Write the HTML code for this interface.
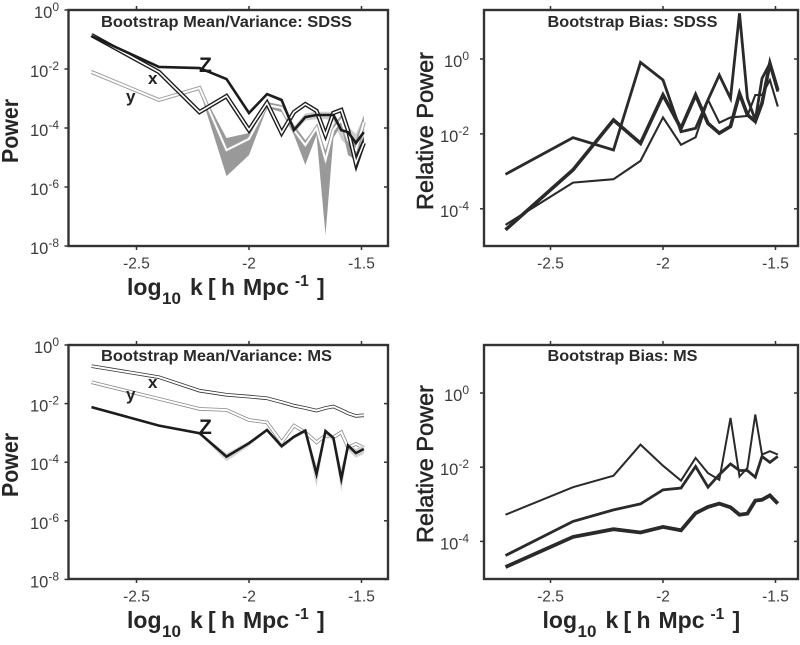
<!DOCTYPE html>
<html>
<head>
<meta charset="utf-8">
<title>Bootstrap Mean/Variance and Bias</title>
<style>
html,body{margin:0;padding:0;background:#fff;}
svg{display:block;font-family:"Liberation Sans",sans-serif;filter:blur(0.35px);}
</style>
</head>
<body>
<svg id="chart" xmlns="http://www.w3.org/2000/svg" width="800" height="645" viewBox="0 0 800 645"></svg>
<script>
// All y values are log10 of the plotted quantity; x values are log10 k.
const kValues = [-2.7,-2.4,-2.22,-2.1,-2,-1.92,-1.855,-1.8,-1.75,-1.7,-1.66,-1.625,-1.59,-1.56,-1.525,-1.49];
const xTickValues = [-2.5,-2,-1.5];
const xTickLabels = ['-2.5','-2','-1.5'];
const powerTickExponents = [0,-2,-4,-6,-8];
const biasTickExponents = [0,-2,-4];

// Panel 1: SDSS mean/variance
const sdssX = [-0.85,-2.10,-3.46,-2.92,-4.07,-3.15,-4.17,-3.46,-3.19,-3.42,-4.24,-3.49,-3.39,-4.07,-5.19,-4.51];
const sdssXLow = [-0.9,-2.14,-3.5,-2.96,-4.1,-3.2,-4.3,-3.5,-3.25,-3.5,-4.4,-3.55,-3.45,-4.2,-5.5,-4.7];
const sdssXHigh = [-0.8,-2.06,-3.42,-2.88,-4.03,-3.1,-4.1,-3.42,-3.13,-3.36,-4.1,-3.43,-3.33,-3.95,-4.9,-4.3];
const sdssY = [-2.10,-3.05,-2.64,-4.75,-4.37,-3.22,-3.32,-4.07,-4.58,-4.0,-5.08,-4.07,-3.73,-4.41,-4.75,-3.80];
const sdssYLow = [-2.14,-3.08,-2.71,-5.63,-4.92,-3.32,-3.46,-4.24,-5.25,-4.24,-7.63,-4.34,-3.9,-4.92,-5.08,-4.07];
const sdssYHigh = [-2.03,-3.02,-2.61,-4.34,-4.17,-3.12,-3.22,-3.90,-4.41,-3.93,-4.75,-3.9,-3.56,-4.07,-4.41,-3.56];
const sdssZ = [-0.88,-1.93,-1.97,-2.34,-3.49,-2.85,-3.05,-4.07,-3.63,-3.56,-3.56,-3.56,-4.07,-4.14,-4.51,-4.14];
const sdssZLow = [-0.92,-1.96,-2.0,-2.38,-3.55,-2.9,-3.12,-4.2,-3.75,-3.7,-3.7,-3.75,-4.4,-4.6,-4.8,-4.55];
const sdssZHigh = [-0.84,-1.9,-1.94,-2.3,-3.43,-2.8,-2.98,-3.95,-3.5,-3.45,-3.45,-3.45,-3.9,-3.95,-4.2,-3.6];

// Panel 2: SDSS bias
const sdssBiasA = [-3.08,-2.10,-2.43,-0.09,-0.56,-1.94,-1.85,-1.09,-0.43,-1.05,1.22,-1.05,-1.63,-0.52,-0.12,-0.87];
const sdssBiasB = [-4.56,-2.96,-1.63,-2.25,-0.96,-1.85,-0.96,-1.72,-1.98,-1.80,-0.92,-1.49,-1.67,-1.18,-0.12,-0.83];
const sdssBiasC = [-4.43,-3.30,-3.21,-2.72,-1.56,-2.29,-2.09,-1.09,-1.70,-1.56,-1.54,-1.52,-0.96,-0.96,-0.56,-1.27];

// Panel 3: MS mean/variance
const msX = [-0.72,-1.10,-1.56,-1.70,-1.76,-1.82,-1.95,-2.07,-2.15,-2.24,-2.15,-2.10,-2.22,-2.33,-2.42,-2.40];
const msY = [-1.27,-1.84,-2.18,-2.22,-2.56,-2.64,-3.32,-2.75,-2.98,-3.32,-3.09,-3.15,-2.98,-3.49,-3.38,-3.51];
const msZ = [-2.12,-2.75,-3.01,-3.81,-3.35,-2.90,-3.45,-3.13,-2.92,-4.40,-2.94,-3.17,-4.57,-3.43,-3.69,-3.55];
const msZLow = [-2.15,-2.78,-3.05,-3.97,-3.45,-2.95,-3.55,-3.2,-3.0,-4.85,-3.05,-3.3,-5.0,-3.6,-3.85,-3.72];
const msZHigh = [-2.09,-2.72,-2.97,-3.7,-3.28,-2.86,-3.38,-3.08,-2.88,-4.1,-2.9,-3.1,-4.2,-3.35,-3.55,-3.4];

// Panel 4: MS bias
const msBiasA = [-3.28,-2.54,-2.23,-1.39,-1.96,-2.36,-1.75,-2.16,-2.34,-0.67,-2.25,-2.02,-0.58,-1.66,-1.57,-1.66];
const msBiasB = [-4.38,-3.46,-3.15,-2.99,-2.61,-2.56,-1.98,-2.54,-2.20,-1.91,-2.09,-2.09,-2.27,-1.71,-1.87,-1.71];
const msBiasC = [-4.69,-3.88,-3.67,-3.76,-3.61,-3.70,-3.24,-3.07,-2.98,-3.08,-3.28,-3.25,-2.90,-2.88,-2.76,-2.98];

const svg = document.getElementById('chart');
const NS = 'http://www.w3.org/2000/svg';

function make(tag, attrs, parent) {
  const el = document.createElementNS(NS, tag);
  for (const key in attrs) el.setAttribute(key, attrs[key]);
  (parent || svg).appendChild(el);
  return el;
}

function axisX(panel, k) { return panel.x2 + (k - (-2)) * 225; }
function axisY(panel, e) { return panel.y0 - e * panel.dec; }
function pathOf(panel, values) {
  return values.map((v, i) => (i ? 'L' : 'M') + axisX(panel, kValues[i]).toFixed(1) + ' ' + axisY(panel, v).toFixed(1)).join(' ');
}

function drawLine(panel, values, name, color, width) {
  const el = make('path', {d: pathOf(panel, values), fill: 'none', stroke: color, 'stroke-width': width, 'stroke-linejoin': 'miter', 'stroke-miterlimit': 6});
  
  
  return el;
}

function drawBand(panel, low, high, name, color) {
  const up = high.map((v, i) => axisX(panel, kValues[i]).toFixed(1) + ',' + axisY(panel, v).toFixed(1));
  const down = low.map((v, i) => axisX(panel, kValues[i]).toFixed(1) + ',' + axisY(panel, v).toFixed(1)).reverse();
  const el = make('polygon', {points: up.concat(down).join(' '), fill: color});
  
  
  return el;
}

function drawText(str, x, y, size, weight, color, anchor, name) {
  const el = make('text', {x: x, y: y, 'font-size': size, 'font-weight': weight, fill: color, 'text-anchor': anchor});
  el.textContent = str;
  
  
  return el;
}

function drawFrame(panel, exponents, labelRight) {
  const frame = make('rect', {x: panel.left, y: panel.top, width: panel.right - panel.left, height: panel.bottom - panel.top, fill: 'none', stroke: '#333333', 'stroke-width': 2.4});
  
  
  xTickValues.forEach((t, i) => {
    const x = axisX(panel, t);
    const topTick = make('line', {x1: x, x2: x, y1: panel.top - 4, y2: panel.top, stroke: '#333333', 'stroke-width': 1.5});
    
    
    const bottomTick = make('line', {x1: x, x2: x, y1: panel.bottom, y2: panel.bottom + 4, stroke: '#333333', 'stroke-width': 1.5});
    
    
    drawText(xTickLabels[i], x, panel.bottom + 22.5, 15.5, 'normal', '#3c3c3c', 'middle', panel.id + '-x-tick-label');
  });
  exponents.forEach(e => {
    const y = axisY(panel, e);
    const leftTick = make('line', {x1: panel.left - 4, x2: panel.left, y1: y, y2: y, stroke: '#333333', 'stroke-width': 1.5});
    
    
    const rightTick = make('line', {x1: panel.right - 4, x2: panel.right, y1: y, y2: y, stroke: '#333333', 'stroke-width': 1.5});
    
    
    const label = make('text', {x: labelRight, y: y + 8, 'font-size': 16.5, fill: '#3c3c3c', 'text-anchor': 'end'});
    
    
    const base = make('tspan', {}, label);
    base.textContent = '10';
    const sup = make('tspan', {dy: -7, 'font-size': 12}, label);
    sup.textContent = String(e);
  });
}

function drawXLabel(panel, base) {
  const dx = panel.left - 68.5;
  const label = make('text', {'font-size': 23, 'font-weight': 'bold', fill: '#262626'});
  
  
  const parts = [
    ['log', 127, base, 23], ['10', 162, base + 9, 17], ['k', 190, base, 23], ['[', 208, base, 23],
    ['h', 221, base, 23], ['Mpc', 243, base, 23], ['-1', 295, base - 9, 15.5], [']', 317, base, 23]
  ];
  parts.forEach(p => {
    const t = make('tspan', {x: p[1] + dx, y: p[2], 'font-size': p[3]}, label);
    t.textContent = p[0];
  });
}

function drawYLabel(str, x, cy, size, len, weight, stroke, name) {
  const el = make('text', {transform: 'translate(' + x + ',' + cy + ') rotate(-90)', 'font-size': size, 'font-weight': weight, fill: '#262626', 'text-anchor': 'middle', textLength: len, lengthAdjust: 'spacingAndGlyphs', stroke: stroke, 'stroke-width': 0.5});
  el.textContent = str;
  
  
}

function drawTitle(str, x, y, len, name) {
  const el = make('text', {x: x, y: y, 'font-size': 15.5, 'font-weight': 'bold', fill: '#2a2a2a', textLength: len, lengthAdjust: 'spacingAndGlyphs'});
  el.textContent = str;
  
  
}

const p1 = {id: 'sdss-power', left: 68.5, right: 388, top: 10, bottom: 246, x2: 249, y0: 10, dec: 29.5};
const p2 = {id: 'sdss-bias', left: 484, right: 798, top: 10, bottom: 246, x2: 663, y0: 59, dec: 37.45};
const p3 = {id: 'ms-power', left: 68.5, right: 388, top: 345, bottom: 579, x2: 249, y0: 345, dec: 29.3};
const p4 = {id: 'ms-bias', left: 484, right: 798, top: 345, bottom: 579, x2: 663, y0: 393, dec: 37.1};

// Panel 1 marks
drawBand(p1, sdssZLow, sdssZHigh, 'sdss-z-variance-band', '#cfcfcf');
drawBand(p1, sdssYLow, sdssYHigh, 'sdss-y-variance-band', '#999999');
drawLine(p1, sdssY, 'sdss-y-line-edge', '#a0a0a0', 4);
drawLine(p1, sdssY, 'sdss-y-line', '#ffffff', 2);
drawBand(p1, sdssXLow, sdssXHigh, 'sdss-x-variance-band', '#222222');
drawLine(p1, sdssX, 'sdss-x-line-edge', '#1e1e1e', 4.4);
drawLine(p1, sdssX, 'sdss-x-line', '#ffffff', 1.6);
drawLine(p1, sdssZ, 'sdss-z-line', '#1c1c1c', 2.6);
drawText('Z', 199, 72, 21, 'bold', '#1c1c1c', 'start', 'sdss-z-label');
drawText('x', 148, 84, 17, 'bold', '#222222', 'start', 'sdss-x-label');
drawText('y', 126, 102, 17, 'bold', '#222222', 'start', 'sdss-y-label');
drawFrame(p1, powerTickExponents, 59);
drawTitle('Bootstrap Mean/Variance: SDSS', 101, 27, 251, 'sdss-power-title');
drawXLabel(p1, 295);
drawYLabel('Power', 18, 131, 23, 64, 'bold', 'none', 'sdss-power-y-axis-title');

// Panel 2 marks
drawLine(p2, sdssBiasC, 'sdss-bias-thin-line', '#2a2a2a', 2.1);
drawLine(p2, sdssBiasA, 'sdss-bias-medium-line', '#2a2a2a', 2.8);
drawLine(p2, sdssBiasB, 'sdss-bias-thick-line', '#2a2a2a', 3.6);
drawFrame(p2, biasTickExponents, 469);
drawTitle('Bootstrap Bias: SDSS', 547.5, 27, 170, 'sdss-bias-title');
drawYLabel('Relative Power', 433, 131, 23.5, 158, 'normal', '#262626', 'sdss-bias-y-axis-title');

// Panel 3 marks
drawLine(p3, msX, 'ms-x-line-edge', '#333333', 3.6);
drawLine(p3, msX, 'ms-x-line', '#ffffff', 2);
drawLine(p3, msY, 'ms-y-line-edge', '#8a8a8a', 3.6);
drawLine(p3, msY, 'ms-y-line', '#ffffff', 2);
drawBand(p3, msZLow, msZHigh, 'ms-z-variance-band', '#d4d4d4');
drawLine(p3, msZ, 'ms-z-line', '#1c1c1c', 2.6);
drawText('Z', 199, 434, 21, 'bold', '#1c1c1c', 'start', 'ms-z-label');
drawText('x', 148, 388, 17, 'bold', '#222222', 'start', 'ms-x-label');
drawText('y', 126, 400, 17, 'bold', '#222222', 'start', 'ms-y-label');
drawFrame(p3, powerTickExponents, 59);
drawTitle('Bootstrap Mean/Variance: MS', 101, 361, 231, 'ms-power-title');
drawXLabel(p3, 628);
drawYLabel('Power', 18, 465, 23, 64, 'bold', 'none', 'ms-power-y-axis-title');

// Panel 4 marks
drawLine(p4, msBiasA, 'ms-bias-thin-line', '#2a2a2a', 2);
drawLine(p4, msBiasB, 'ms-bias-medium-line', '#2a2a2a', 2.8);
drawLine(p4, msBiasC, 'ms-bias-thick-line', '#2a2a2a', 3.8);
drawFrame(p4, biasTickExponents, 469);
drawTitle('Bootstrap Bias: MS', 547.5, 361, 150, 'ms-bias-title');
drawXLabel(p4, 628);
drawYLabel('Relative Power', 433, 464, 23.5, 158, 'normal', '#262626', 'ms-bias-y-axis-title');
</script>
</body>
</html>
